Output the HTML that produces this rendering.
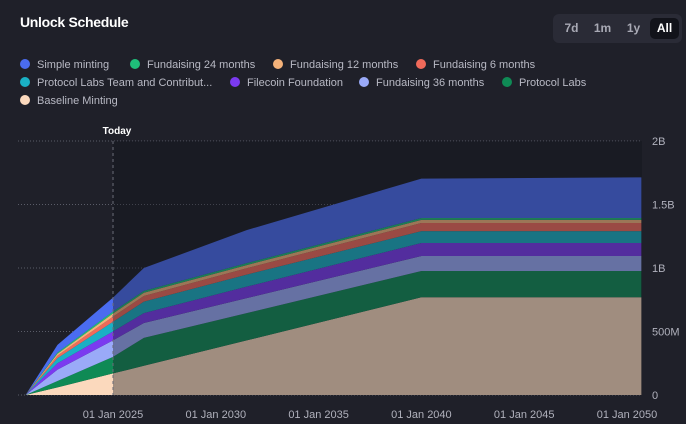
<!DOCTYPE html>
<html><head><meta charset="utf-8"><style>
body{margin:0;background:#1f2029;font-family:"Liberation Sans",sans-serif;}
#wrap{position:relative;width:686px;height:424px;overflow:hidden;background:#1f2029;}
.title{position:absolute;left:20px;top:14px;color:#fff;font-weight:bold;font-size:14px;letter-spacing:-0.3px}
.btns{position:absolute;left:553px;top:14px;width:129px;height:29px;background:#2a2b36;border-radius:6px}
.btn{position:absolute;top:4px;height:21px;line-height:21px;font-size:12px;font-weight:bold;color:#a8a9b4;text-align:center;border-radius:5px}
.legend{position:absolute;left:20px;top:59px;width:600px;font-size:11px;color:#b8b9c4}
.li{position:absolute;white-space:nowrap}
.dot{display:inline-block;width:10px;height:10px;border-radius:50%;margin-right:7px;vertical-align:-1px}
</style></head><body>
<div id="wrap">
<div class="title">Unlock Schedule</div>
<div class="btns">
<div class="btn" style="left:4px;width:29px">7d</div>
<div class="btn" style="left:35px;width:29px">1m</div>
<div class="btn" style="left:66px;width:29px">1y</div>
<div class="btn" style="left:97px;width:29px;background:#12131a;color:#fff">All</div>
</div>
<div class="legend">
<div class="li" style="left:0;top:0"><span class="dot" style="background:#4a6cf0"></span>Simple minting</div>
<div class="li" style="left:110px;top:0"><span class="dot" style="background:#1fbf7a"></span>Fundaising 24 months</div>
<div class="li" style="left:253px;top:0"><span class="dot" style="background:#f4b27a"></span>Fundaising 12 months</div>
<div class="li" style="left:396px;top:0"><span class="dot" style="background:#f06a5a"></span>Fundaising 6 months</div>
<div class="li" style="left:0;top:18px"><span class="dot" style="background:#1ab0c4"></span>Protocol Labs Team and Contribut...</div>
<div class="li" style="left:210px;top:18px"><span class="dot" style="background:#7b3af0"></span>Filecoin Foundation</div>
<div class="li" style="left:339px;top:18px"><span class="dot" style="background:#9aaaf8"></span>Fundaising 36 months</div>
<div class="li" style="left:482px;top:18px"><span class="dot" style="background:#0f8a55"></span>Protocol Labs</div>
<div class="li" style="left:0;top:36px"><span class="dot" style="background:#fbd9bd"></span>Baseline Minting</div>
</div>
<svg id="chart" width="686" height="424" style="position:absolute;left:0;top:0"></svg>
</div>
<script>
const years=[2020.75,2022.3,2025,2026.5,2031.5,2040,2050.7];
const baseline=[0,.06,.17,.23,.43,.77,.77];
const protocolLabs=[0,.05,.13,.22,.215,.206,.206];
const fund36=[0,.09,.13,.117,.118,.118,.118];
const filecoinFoundation=[0,.05,.07,.078,.09,.103,.103];
const plTeam=[0,.04,.077,.09,.095,.093,.093];
const fund6=[0,.02,.04,.045,.05,.064,.064];
const fund12=[0,.015,.025,.025,.025,.025,.025];
const fund24=[0,.01,.015,.015,.015,.015,.015];
const simpleMinting=[0,.06,.11,.18,.26,.31,.32];
const yTicks=[0,0.5,1,1.5,2];
const yTickLabels=["0","500M","1B","1.5B","2B"];
const xTicks=[2025,2030,2035,2040,2045,2050];
const xTickLabels=["01 Jan 2025","01 Jan 2030","01 Jan 2035","01 Jan 2040","01 Jan 2045","01 Jan 2050"];
const today=2025;

const NS="http://www.w3.org/2000/svg";
const svg=document.getElementById('chart');
const X=y=>113+(y-2025)*20.56;
const Y=v=>395-v*127;
function mk(t,a){const e=document.createElementNS(NS,t);for(const k in a)e.setAttribute(k,a[k]);svg.appendChild(e);return e;}
const ov=mk('rect',{x:X(today),y:141,width:642-X(today),height:254,fill:'#1a1b23'});


yTicks.forEach((t,i)=>{
 const g=mk('line',{x1:18,x2:642,y1:Y(t),y2:Y(t),stroke:'#5a5c68','stroke-dasharray':'1 2','stroke-width':1});
 
 
 const l=mk('text',{x:652,y:Y(t)+4,fill:'#b0b1bc','font-size':11,'font-family':'Liberation Sans, sans-serif'});
 l.textContent=yTickLabels[i];
 
 
});
xTicks.forEach((t,i)=>{
 const l=mk('text',{x:X(t),y:418,fill:'#b0b1bc','font-size':11,'text-anchor':'middle','font-family':'Liberation Sans, sans-serif'});
 l.textContent=xTickLabels[i];
 
 
});
const series=[
 [baseline,'#fbd9bd','baseline-minting'],
 [protocolLabs,'#0f8a55','protocol-labs'],
 [fund36,'#9aaaf8','fundraising-36'],
 [filecoinFoundation,'#7b3af0','filecoin-foundation'],
 [plTeam,'#1ab0c4','protocol-labs-team'],
 [fund6,'#f06a5a','fundraising-6'],
 [fund12,'#f4b27a','fundraising-12'],
 [fund24,'#1fbf7a','fundraising-24'],
 [simpleMinting,'#4a6cf0','simple-minting']];
let cum=years.map(()=>0);
series.forEach(([vals,col,name])=>{
 const lo=cum.slice(); cum=cum.map((c,i)=>c+vals[i]);
 let d='M'+years.map((y,i)=>X(y)+','+Y(cum[i])).join('L');
 for(let i=years.length-1;i>=0;i--) d+='L'+X(years[i])+','+Y(lo[i]);
 const p=mk('path',{d:d+'Z',fill:col});
 
 
});
const dim=mk('rect',{x:X(today),y:141,width:642-X(today),height:254,fill:'#1a1b23',opacity:0.4});


const tl=mk('line',{x1:X(today),x2:X(today),y1:141,y2:395,stroke:'#6a6c78','stroke-dasharray':'3 3'});


const tt=mk('text',{x:X(today)+4,y:134,fill:'#fff','font-size':10,'font-weight':'bold','text-anchor':'middle','font-family':'Liberation Sans, sans-serif'});
tt.textContent='Today';


</script>
</body></html>
